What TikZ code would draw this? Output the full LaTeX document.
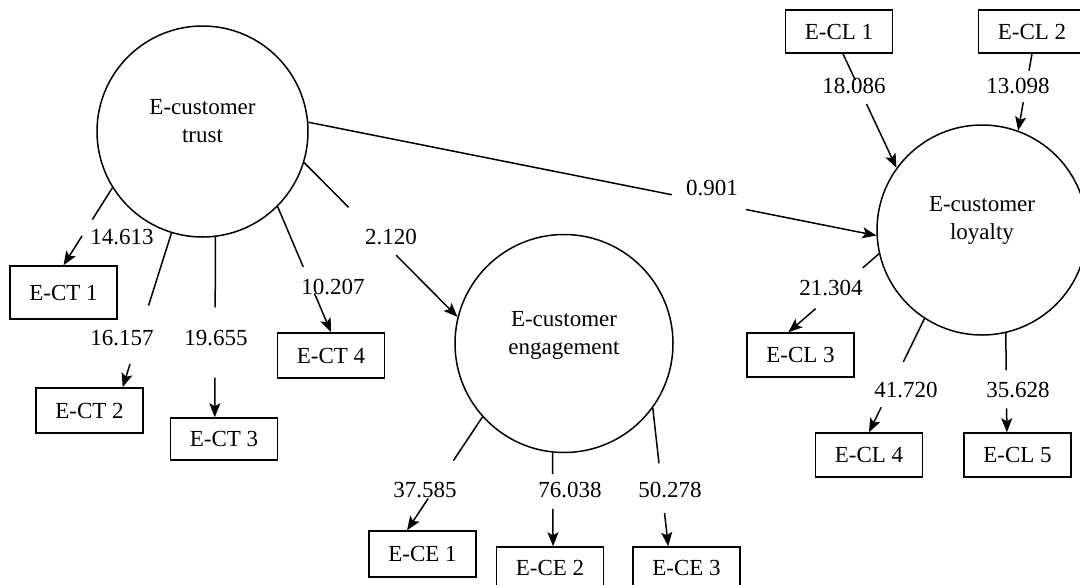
\documentclass[tikz,border=0pt]{standalone}
\usepackage{fontspec}
\setmainfont{Liberation Serif}
\usetikzlibrary{arrows.meta, positioning, calc}

% line from #1 to #2, broken between the fractions #3 and #4
\newcommand{\splitlink}[4]{%
  \draw[line] (#1) -- ($(#1)!#3!(#2)$);
  \draw[arrow] ($(#1)!#4!(#2)$) -- (#2);
}

\begin{document}
\begin{tikzpicture}[x=0.5pt, y=-0.5pt,
  every node/.style={font=\fontsize{11.5}{14}\selectfont},
  >={Stealth[length=7pt,width=5.5pt,inset=1.5pt]},
  line/.style={line width=0.75pt},
  arrow/.style={->, line width=0.75pt},
  latent/.style={draw, circle, line width=0.75pt, inner sep=0pt},
  item/.style={draw, rectangle, line width=0.75pt, inner sep=0pt,
    minimum width=53.5pt, minimum height=22pt},
  num/.style={inner sep=1pt}
]
\useasboundingbox (0,0) rectangle (1080,584);

% latent variables
\node[latent, minimum size=105.5pt,
  label={[align=center, yshift=5pt]center:E-customer\\trust}] (trust) at (202.5,131.5) {};
\node[latent, minimum size=109pt,
  label={[align=center, yshift=4pt]center:E-customer\\engagement}] (engage) at (564,343.5) {};
\node[latent, minimum size=105pt,
  label={[align=center, yshift=5pt]center:E-customer\\loyalty}] (loyal) at (982,230) {};

% indicators
\node[item, minimum height=26.5pt] (ct1) at (63.5,292.5) {E-CT 1};
\node[item, minimum height=22.5pt] (ct2) at (89.5,410.5) {E-CT 2};
\node[item, minimum height=21pt] (ct3) at (224,439) {E-CT 3};
\node[item, minimum height=22.5pt] (ct4) at (331,355.5) {E-CT 4};

\node[item, minimum height=23pt] (ce1) at (422.5,554) {E-CE 1};
\node[item, minimum height=21pt] (ce2) at (550,568) {E-CE 2};
\node[item, minimum height=21pt] (ce3) at (686.5,568) {E-CE 3};

\node[item, minimum height=21.5pt] (cl1) at (839,31.5) {E-CL 1};
\node[item, minimum height=21.5pt] (cl2) at (1032,31.5) {E-CL 2};
\node[item] (cl3) at (800.5,355) {E-CL 3};
\node[item] (cl4) at (869,455) {E-CL 4};
\node[item] (cl5) at (1017.5,455) {E-CL 5};

% paths
\splitlink{trust.212}{ct1.north}{.41}{.62}
\splitlink{trust.253}{ct2.35}{.47}{.85}
\splitlink{trust.277}{ct3.113}{.39}{.78}
\splitlink{trust.315}{ct4.north}{.48}{.69}
\splitlink{trust.343}{engage.166}{.29}{.60}
\splitlink{trust.5}{loyal.183}{.64}{.77}

\splitlink{engage.222}{ce1.123}{.385}{.72}
\splitlink{engage.264}{ce2.82}{.23}{.60}
\splitlink{engage.324}{ce3.130}{.40}{.76}

\splitlink{cl1.280}{loyal.144}{.23}{.44}
\splitlink{cl2.south}{loyal.70}{.22}{.63}
\splitlink{loyal.193}{cl3.118}{.18}{.70}
\splitlink{loyal.237}{cl4.north}{.38}{.78}
\splitlink{loyal.283}{cl5.115}{.375}{.76}

% t-values
\node[num] (t1) at (122,237) {14.613};
\node[num] (t2) at (122,338) {16.157};
\node[num] (t3) at (216,338) {19.655};
\node[num] (t4) at (333,287) {10.207};
\node[num] (t5) at (391,237) {2.120};
\node[num] (t6) at (712,188) {0.901};
\node[num] (t7) at (425,490) {37.585};
\node[num] (t8) at (570,490) {76.038};
\node[num] (t9) at (670,490) {50.278};
\node[num] (t10) at (854,86) {18.086};
\node[num] (t11) at (1018,86) {13.098};
\node[num] (t12) at (831,288) {21.304};
\node[num] (t13) at (906,390) {41.720};
\node[num] (t14) at (1018,390) {35.628};
\end{tikzpicture}
\end{document}
